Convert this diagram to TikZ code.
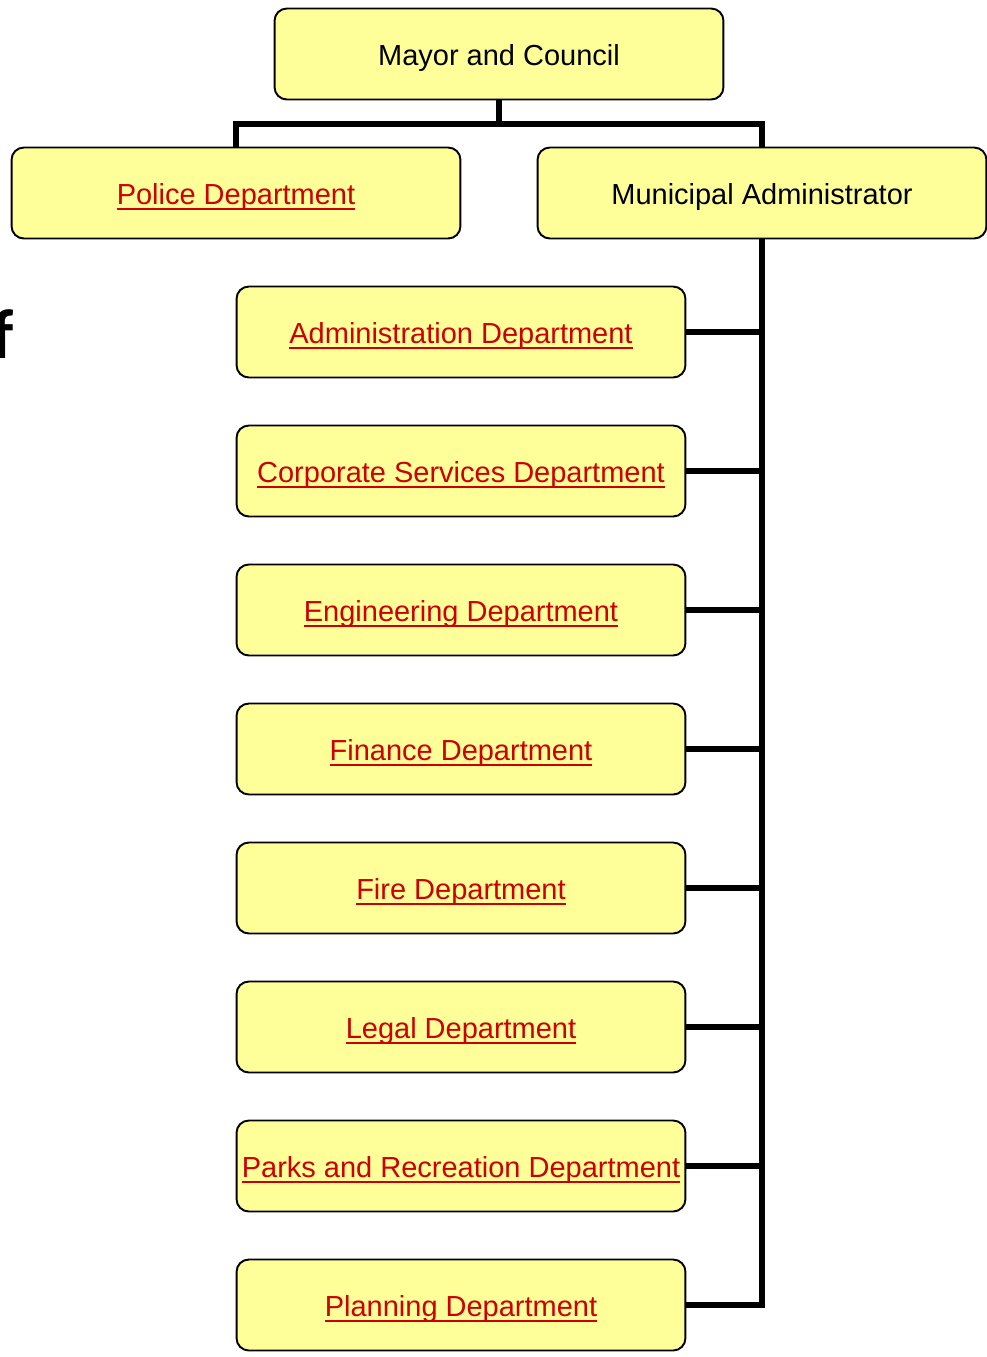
\documentclass[tikz,border=0pt]{standalone}
\usepackage{fontspec}
\setmainfont{Liberation Sans}
\newfontfamily\titlefont{Carlito}
\usetikzlibrary{positioning}
\definecolor{boxfill}{HTML}{FFFF99}
\definecolor{linkred}{HTML}{CC0000}
\newsavebox{\linkbox}
\newcommand{\deptlink}[1]{\textcolor{linkred}{\sbox{\linkbox}{#1}\rlap{\rule[-2.9pt]{\wd\linkbox}{1.1pt}}\usebox{\linkbox}}}
\tikzset{
  office/.style={rectangle, rounded corners=7pt, draw=black, fill=boxfill, line width=1.1pt, minimum width=8.98cm, minimum height=1.82cm, inner sep=1pt, text height=15pt, text depth=2pt, font=\fontsize{16.5}{19}\selectfont},
  dept/.style={office},
  link/.style={line width=3pt, black},
  cutoff/.style={anchor=base west, inner sep=0pt, font=\titlefont\bfseries\fontsize{40}{44}\selectfont}
}

\begin{document}
\begin{tikzpicture}[x=0.02cm, y=-0.02cm]
  \useasboundingbox (0,0) rectangle (987,1357);
  \node[cutoff] (stray) at (-9,358) {f};
  \node[office] (mayor) at (499,54) {Mayor and Council};
  \node[office] (police) at (236,193) {\deptlink{Police Department}};
  \node[office] (madmin) at (762,193) {Municipal Administrator};
  \node[dept] (admin) at (461,332) {\deptlink{Administration Department}};
  \node[dept] (corp) at (461,471) {\deptlink{Corporate Services Department}};
  \node[dept] (eng) at (461,610) {\deptlink{Engineering Department}};
  \node[dept] (fin) at (461,749) {\deptlink{Finance Department}};
  \node[dept] (fire) at (461,888) {\deptlink{Fire Department}};
  \node[dept] (legal) at (461,1027) {\deptlink{Legal Department}};
  \node[dept] (parks) at (461,1166) {\deptlink{Parks and Recreation Department}};
  \node[dept] (plan) at (461,1305) {\deptlink{Planning Department}};
  \coordinate (bus) at (499,124);
  \draw[link] (mayor.south) -- (bus);
  \draw[link] (police.north) |- (bus) -| (madmin.north);
  \draw[link] (madmin.south) |- (plan.east);
  \draw[link] (admin.east) -- (admin.east -| madmin.south);
  \draw[link] (corp.east) -- (corp.east -| madmin.south);
  \draw[link] (eng.east) -- (eng.east -| madmin.south);
  \draw[link] (fin.east) -- (fin.east -| madmin.south);
  \draw[link] (fire.east) -- (fire.east -| madmin.south);
  \draw[link] (legal.east) -- (legal.east -| madmin.south);
  \draw[link] (parks.east) -- (parks.east -| madmin.south);
\end{tikzpicture}
\end{document}
